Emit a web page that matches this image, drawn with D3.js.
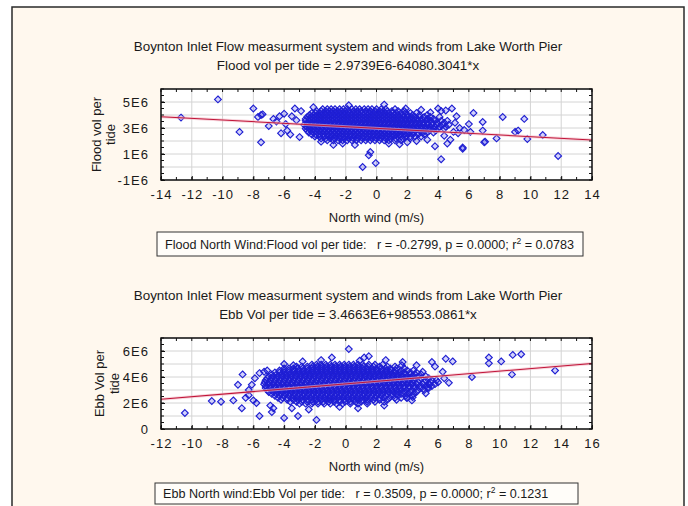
<!DOCTYPE html>
<html>
<head>
<meta charset="utf-8">
<script src="https://cdn.jsdelivr.net/npm/d3@7"></script>
<style>
  body { margin: 0; background: #fff; }
  svg text { font-family: "Liberation Sans", Arial, sans-serif; fill: #1a1a1a; }
</style>
</head>
<body>
<svg id="chart" width="688" height="506"></svg>
<script>
// shared text
const chartTitle = 'Boynton Inlet Flow measurment system and winds from Lake Worth Pier';
const xLabel = 'North wind (m/s)';

// ---- Flood panel (values in E6) ----
const floodXTicks = [-14, -12, -10, -8, -6, -4, -2, 0, 2, 4, 6, 8, 10, 12, 14];
const floodYTicks = [-1, 1, 3, 5];
const floodFit = { intercept: 2.9739, slope: -0.0640803041 };
// dense core, one row per vol level: [vol, [winds]]
const floodRows = [
  [4.45, [-3.5,-3.2,-2.95,-2.7,-2.4,-2.15,-1.9,-1.6,-1.35,-1.1,-0.8,-0.55,-0.3,0.0,0.3,0.6,1.2]],
  [4.30, [-3.9,-3.6,-3.3,-3.05,-2.8,-2.55,-2.3,-2.05,-1.8,-1.5,-1.25,-1.0,-0.7,-0.4,-0.1,0.2,0.45,0.7,1.0,1.4,1.8]],
  [4.15, [-4.2,-3.95,-3.7,-3.45,-3.2,-2.95,-2.7,-2.45,-2.2,-1.95,-1.7,-1.45,-1.2,-0.95,-0.7,-0.45,-0.2,0.05,0.3,0.55,0.8,1.05,1.3,1.6,1.9,2.2,2.6]],
  [4.00, [-4.35,-4.1,-3.85,-3.6,-3.35,-3.1,-2.85,-2.6,-2.35,-2.1,-1.85,-1.6,-1.35,-1.1,-0.85,-0.6,-0.35,-0.1,0.15,0.4,0.65,0.9,1.15,1.4,1.7,2.0,2.35,2.8,3.3]],
  [3.85, [-4.5,-4.25,-4.0,-3.75,-3.5,-3.25,-3.0,-2.75,-2.5,-2.25,-2.0,-1.75,-1.5,-1.25,-1.0,-0.75,-0.5,-0.25,0.0,0.25,0.5,0.75,1.0,1.25,1.5,1.75,2.0,2.25,2.5,2.8,3.1,3.5,4.1]],
  [3.70, [-4.6,-4.35,-4.1,-3.85,-3.6,-3.35,-3.1,-2.85,-2.6,-2.35,-2.1,-1.85,-1.6,-1.35,-1.1,-0.85,-0.6,-0.35,-0.1,0.15,0.4,0.65,0.9,1.15,1.4,1.65,1.9,2.15,2.4,2.65,2.95,3.3,3.7]],
  [3.55, [-4.6,-4.35,-4.1,-3.85,-3.6,-3.35,-3.1,-2.85,-2.6,-2.35,-2.1,-1.85,-1.6,-1.35,-1.1,-0.85,-0.6,-0.35,-0.1,0.15,0.4,0.65,0.9,1.15,1.4,1.65,1.9,2.15,2.4,2.65,2.9,3.2,3.5,3.8,4.2,4.6]],
  [3.40, [-4.5,-4.25,-4.0,-3.75,-3.5,-3.25,-3.0,-2.75,-2.5,-2.25,-2.0,-1.75,-1.5,-1.25,-1.0,-0.75,-0.5,-0.25,0.0,0.25,0.5,0.75,1.0,1.25,1.5,1.75,2.0,2.25,2.5,2.75,3.0,3.3,3.6,3.95,4.4]],
  [3.25, [-4.7,-4.45,-4.2,-3.95,-3.7,-3.45,-3.2,-2.95,-2.7,-2.45,-2.2,-1.95,-1.7,-1.45,-1.2,-0.95,-0.7,-0.45,-0.2,0.05,0.3,0.55,0.8,1.05,1.3,1.55,1.8,2.05,2.3,2.55,2.8,3.05,3.3,3.6,3.9,4.3,4.7]],
  [3.10, [-4.55,-4.3,-4.05,-3.8,-3.55,-3.3,-3.05,-2.8,-2.55,-2.3,-2.05,-1.8,-1.55,-1.3,-1.05,-0.8,-0.55,-0.3,-0.05,0.2,0.45,0.7,0.95,1.2,1.45,1.7,1.95,2.2,2.45,2.7,2.95,3.2,3.5,3.8,4.1,4.5]],
  [2.95, [-4.6,-4.35,-4.1,-3.85,-3.6,-3.35,-3.1,-2.85,-2.6,-2.35,-2.1,-1.85,-1.6,-1.35,-1.1,-0.85,-0.6,-0.35,-0.1,0.15,0.4,0.65,0.9,1.15,1.4,1.65,1.9,2.15,2.4,2.65,2.9,3.15,3.4,3.7,4.0,4.4]],
  [2.80, [-4.5,-4.25,-4.0,-3.75,-3.5,-3.25,-3.0,-2.75,-2.5,-2.25,-2.0,-1.75,-1.5,-1.25,-1.0,-0.75,-0.5,-0.25,0.0,0.25,0.5,0.75,1.0,1.25,1.5,1.75,2.0,2.25,2.5,2.8,3.1,3.45,3.85]],
  [2.65, [-4.4,-4.1,-3.85,-3.6,-3.35,-3.1,-2.85,-2.6,-2.35,-2.1,-1.85,-1.6,-1.35,-1.1,-0.85,-0.6,-0.35,-0.1,0.15,0.4,0.65,0.9,1.15,1.4,1.65,1.9,2.15,2.4,2.7,3.0,3.3,3.7]],
  [2.50, [-4.2,-3.95,-3.7,-3.45,-3.2,-2.95,-2.7,-2.45,-2.2,-1.95,-1.7,-1.45,-1.2,-0.95,-0.7,-0.45,-0.2,0.05,0.3,0.55,0.8,1.05,1.3,1.55,1.8,2.05,2.35,2.7,3.1]],
  [2.35, [-4.0,-3.7,-3.4,-3.15,-2.9,-2.65,-2.4,-2.15,-1.9,-1.65,-1.4,-1.15,-0.9,-0.65,-0.4,-0.15,0.1,0.35,0.6,0.85,1.1,1.35,1.6,1.9,2.2,2.5,2.9]],
  [2.20, [-3.6,-3.3,-3.0,-2.7,-2.4,-2.1,-1.8,-1.5,-1.2,-0.9,-0.6,-0.3,0.0,0.3,0.6,0.9,1.25,1.7,2.2]],
  [2.05, [-3.2,-2.8,-2.5,-2.2,-1.9,-1.6,-1.3,-1.0,-0.7,-0.4,-0.1,0.2,0.5,0.8,1.2,1.6]]
];
// scattered points outside the core: [wind, vol]
const floodSparse = [
  [-12.7,3.8],[-10.3,5.2],[-8.9,2.7],[-8.0,4.5],[-7.7,3.85],[-7.5,4.0],[-7.4,4.05],[-7.5,1.9],
  [-7.0,3.15],[-6.7,3.7],[-6.5,3.5],[-6.3,3.9],[-6.2,2.6],[-6.0,4.1],[-5.9,3.3],[-5.8,2.8],
  [-5.6,2.5],[-5.5,3.9],[-5.3,4.5],[-5.2,3.6],[-5.0,2.3],[-4.9,4.3],[-4.1,4.6],[-1.4,1.7],
  [-0.9,0.0],[-0.05,0.3],[-0.5,0.9],[-0.4,1.15],[-2.2,1.8],[0.8,1.8],[1.5,1.75],[2.6,2.0],
  [3.3,2.1],[-3.6,1.95],[4.0,4.5],[4.2,4.3],[4.5,4.35],[4.9,4.5],[4.2,0.6],[6.3,4.15],
  [6.9,3.46],[6.9,2.8],[7.0,1.9],[7.05,1.95],[6.0,3.3],[5.6,1.5],[5.6,1.4],[7.8,2.2],
  [8.2,3.85],[9.0,2.7],[9.2,2.8],[9.6,3.7],[9.8,2.15],[10.8,2.46],[11.8,0.85],[5.0,2.7],
  [5.3,2.6],[5.7,2.85],[6.1,2.7],[5.1,3.4],[5.2,3.9],[4.8,2.1],[4.6,1.8],[3.8,1.6],
  [4.4,2.4],[5.4,3.0],[2.0,1.9],[-2.8,1.7],[0.5,4.8],[-1.8,4.75],[1.9,4.5],[2.9,4.4],[3.5,4.2]
];

// ---- Ebb panel (values in E6) ----
const ebbXTicks = [-12, -10, -8, -6, -4, -2, 0, 2, 4, 6, 8, 10, 12, 14, 16];
const ebbYTicks = [0, 2, 4, 6];
const ebbFit = { intercept: 3.4663, slope: 0.0985530861 };
const ebbRows = [
  [4.95, [-2.2,-1.9,-1.6,-1.3,-1.0,-0.7,-0.4,-0.1,0.2,0.5,0.8,1.1,1.5,1.9,2.4]],
  [4.80, [-3.2,-2.85,-2.5,-2.15,-1.85,-1.55,-1.25,-0.95,-0.65,-0.35,-0.05,0.25,0.55,0.85,1.15,1.45,1.8,2.2,2.7,3.2]],
  [4.65, [-4.0,-3.7,-3.4,-3.1,-2.8,-2.5,-2.2,-1.9,-1.6,-1.3,-1.0,-0.7,-0.4,-0.1,0.2,0.5,0.8,1.1,1.4,1.7,2.0,2.3,2.6,2.9,3.3,3.8]],
  [4.50, [-4.3,-4.0,-3.7,-3.35,-3.05,-2.75,-2.45,-2.15,-1.85,-1.55,-1.25,-0.95,-0.65,-0.35,-0.05,0.25,0.55,0.85,1.15,1.45,1.75,2.05,2.35,2.65,2.95,3.25,3.6,4.0,4.4]],
  [4.35, [-4.6,-4.3,-4.0,-3.7,-3.4,-3.1,-2.8,-2.5,-2.2,-1.9,-1.6,-1.3,-1.0,-0.7,-0.4,-0.1,0.2,0.5,0.8,1.1,1.4,1.7,2.0,2.3,2.6,2.9,3.2,3.5,3.8,4.2,4.6]],
  [4.20, [-4.8,-4.5,-4.2,-3.9,-3.6,-3.3,-3.0,-2.7,-2.4,-2.1,-1.8,-1.5,-1.2,-0.9,-0.6,-0.3,0.0,0.3,0.6,0.9,1.2,1.5,1.8,2.1,2.4,2.7,3.0,3.3,3.6,3.9,4.2,4.5,4.9]],
  [4.05, [-5.0,-4.7,-4.4,-4.1,-3.8,-3.5,-3.2,-2.9,-2.6,-2.3,-2.0,-1.7,-1.4,-1.1,-0.8,-0.5,-0.2,0.1,0.4,0.7,1.0,1.3,1.6,1.9,2.2,2.5,2.8,3.1,3.4,3.7,4.0,4.3,4.7,5.2]],
  [3.90, [-5.1,-4.8,-4.5,-4.2,-3.9,-3.6,-3.3,-3.0,-2.7,-2.4,-2.1,-1.8,-1.5,-1.2,-0.9,-0.6,-0.3,0.0,0.3,0.6,0.9,1.2,1.5,1.8,2.1,2.4,2.7,3.0,3.3,3.6,3.9,4.2,4.5,4.9,5.4]],
  [3.75, [-5.2,-4.9,-4.6,-4.3,-4.0,-3.7,-3.4,-3.1,-2.8,-2.5,-2.2,-1.9,-1.6,-1.3,-1.0,-0.7,-0.4,-0.1,0.2,0.5,0.8,1.1,1.4,1.7,2.0,2.3,2.6,2.9,3.2,3.5,3.8,4.1,4.4,4.8,5.2,5.6]],
  [3.60, [-5.25,-4.95,-4.65,-4.35,-4.05,-3.75,-3.45,-3.15,-2.85,-2.55,-2.25,-1.95,-1.65,-1.35,-1.05,-0.75,-0.45,-0.15,0.15,0.45,0.75,1.05,1.35,1.65,1.95,2.25,2.55,2.85,3.15,3.45,3.75,4.05,4.35,4.7,5.1,5.5]],
  [3.45, [-5.3,-5.0,-4.7,-4.4,-4.1,-3.8,-3.5,-3.2,-2.9,-2.6,-2.3,-2.0,-1.7,-1.4,-1.1,-0.8,-0.5,-0.2,0.1,0.4,0.7,1.0,1.3,1.6,1.9,2.2,2.5,2.8,3.1,3.4,3.7,4.0,4.3,4.6,5.0,5.4,5.8]],
  [3.30, [-5.2,-4.9,-4.6,-4.3,-4.0,-3.7,-3.4,-3.1,-2.8,-2.5,-2.2,-1.9,-1.6,-1.3,-1.0,-0.7,-0.4,-0.1,0.2,0.5,0.8,1.1,1.4,1.7,2.0,2.3,2.6,2.9,3.2,3.5,3.8,4.1,4.4,4.8,5.2,5.6]],
  [3.15, [-5.2,-4.9,-4.6,-4.3,-4.0,-3.7,-3.4,-3.1,-2.8,-2.5,-2.2,-1.9,-1.6,-1.3,-1.0,-0.7,-0.4,-0.1,0.2,0.5,0.8,1.1,1.4,1.7,2.0,2.3,2.6,2.9,3.2,3.5,3.8,4.1,4.5,4.9,5.4]],
  [3.00, [-5.1,-4.8,-4.5,-4.2,-3.9,-3.6,-3.3,-3.0,-2.7,-2.4,-2.1,-1.8,-1.5,-1.2,-0.9,-0.6,-0.3,0.0,0.3,0.6,0.9,1.2,1.5,1.8,2.1,2.4,2.7,3.0,3.3,3.6,3.95,4.3,4.7,5.1]],
  [2.85, [-5.0,-4.7,-4.4,-4.1,-3.8,-3.5,-3.2,-2.9,-2.6,-2.3,-2.0,-1.7,-1.4,-1.1,-0.8,-0.5,-0.2,0.1,0.4,0.7,1.0,1.3,1.6,1.9,2.2,2.5,2.8,3.1,3.4,3.8,4.2,4.6]],
  [2.70, [-4.8,-4.5,-4.2,-3.9,-3.6,-3.3,-3.0,-2.7,-2.4,-2.1,-1.8,-1.5,-1.2,-0.9,-0.6,-0.3,0.0,0.3,0.6,0.9,1.2,1.5,1.8,2.1,2.4,2.7,3.0,3.3,3.6,4.0,4.4]],
  [2.55, [-4.6,-4.3,-4.0,-3.7,-3.4,-3.1,-2.8,-2.5,-2.2,-1.9,-1.6,-1.3,-1.0,-0.7,-0.4,-0.1,0.2,0.5,0.8,1.1,1.4,1.7,2.0,2.3,2.6,3.0,3.4,3.9,4.3]],
  [2.40, [-4.4,-4.1,-3.8,-3.5,-3.2,-2.9,-2.6,-2.3,-2.0,-1.7,-1.4,-1.1,-0.8,-0.5,-0.2,0.1,0.4,0.7,1.0,1.3,1.6,1.9,2.2,2.5,2.85,3.2,3.6,4.0]],
  [2.25, [-4.2,-3.8,-3.4,-3.1,-2.8,-2.5,-2.2,-1.9,-1.6,-1.3,-1.0,-0.7,-0.4,-0.1,0.2,0.5,0.8,1.1,1.4,1.8,2.2,2.7,3.3]],
  [2.10, [-3.6,-3.2,-2.85,-2.5,-2.15,-1.8,-1.45,-1.1,-0.75,-0.4,-0.05,0.3,0.65,1.0,1.4,1.9,2.5]],
  [1.95, [-3.0,-2.6,-2.2,-1.8,-1.4,-1.0,-0.6,-0.2,0.3,0.8,1.4]]
];
const ebbSparse = [
  [-10.45,1.23],[-8.7,2.15],[-8.1,2.1],[-7.3,2.2],[-7.0,3.4],[-6.75,1.6],[-6.7,4.2],[-6.5,2.4],
  [-6.3,2.6],[-6.1,3.4],[-6.0,2.2],[-5.6,1.0],[-5.6,4.3],[-5.3,4.4],[-5.1,4.5],[-4.8,1.3],
  [-4.7,1.6],[-4.0,0.85],[-3.1,1.0],[-4.0,5.0],[-3.4,4.9],[-1.9,0.7],[-0.9,5.5],[0.2,6.15],
  [1.2,5.5],[6.95,5.2],[6.5,5.4],[6.7,3.55],[5.6,5.15],[5.3,3.15],[5.45,3.4],[5.2,2.75],
  [5.9,3.75],[6.0,3.6],[8.2,4.0],[9.3,5.5],[9.3,5.05],[10.1,5.2],[10.85,5.7],[11.4,5.75],
  [10.8,4.2],[13.6,4.5],[4.35,2.45],[4.3,2.2],[3.95,2.4],[3.7,5.15],[3.65,4.9],[-5.8,2.0],
  [-4.9,1.8],[-3.5,1.6],[-2.4,1.5],[0.8,1.6],[2.5,1.8],[-1.6,5.3],[2.6,5.3],[4.6,4.9],
  [6.3,4.4],[6.4,3.9],[-5.9,3.9],[-6.3,3.0],[-2.8,5.2],[0.9,5.25],[-0.4,1.7],[1.5,5.6],
  [5.0,4.4],[5.8,4.8]
];

const panels = [
  {
    equation: 'Flood vol per tide = 2.9739E6-64080.3041*x',
    yLabel: ['Flood vol per', 'tide'],
    yLabelX: [101, 115],
    stats: ['Flood North Wind:Flood vol per tide:   r = -0.2799, p = 0.0000; r', ' = 0.0783'],
    xTicks: floodXTicks, yTicks: floodYTicks,
    xDomain: [-14, 14], yDomain: [-1, 6],
    rows: floodRows, sparse: floodSparse, fit: floodFit,
    titleY: 51, top: 89, bottom: 180, xLabelY: 222, boxX: 157, boxW: 426, boxY: 232, boxH: 24
  },
  {
    equation: 'Ebb Vol per tide = 3.4663E6+98553.0861*x',
    yLabel: ['Ebb Vol per', 'tide'],
    yLabelX: [104, 119],
    stats: ['Ebb North wind:Ebb Vol per tide:   r = 0.3509, p = 0.0000; r', ' = 0.1231'],
    xTicks: ebbXTicks, yTicks: ebbYTicks,
    xDomain: [-12, 16], yDomain: [0, 7],
    rows: ebbRows, sparse: ebbSparse, fit: ebbFit,
    titleY: 300, top: 338, bottom: 429, xLabelY: 471, boxX: 155, boxW: 423, boxY: 483, boxH: 21
  }
];

const plotLeft = 161, plotRight = 592;
const svg = d3.select('#chart');
const font = '"Liberation Sans", Arial, sans-serif';

// outer window frame
svg.append('rect')
  .attr('x', 12).attr('y', 7).attr('width', 672).attr('height', 520)
  .attr('fill', '#fff8ee').attr('stroke', '#2a2a2a').attr('stroke-width', 1.5);

const diamond = 'M0,-3.4L3.4,0L0,3.4L-3.4,0Z';

function drawPanel(p) {
  const x = d3.scaleLinear().domain(p.xDomain).range([plotLeft, plotRight]);
  const y = d3.scaleLinear().domain(p.yDomain).range([p.bottom, p.top]);
  const g = svg.append('g');

  // titles
  g.append('text').attr('x', 348).attr('y', p.titleY)
    .attr('text-anchor', 'middle').style('font-size', '13.4px').text(chartTitle);
  g.append('text').attr('x', 348).attr('y', p.titleY + 19)
    .attr('text-anchor', 'middle').style('font-size', '13.4px').text(p.equation);

  // plot area
  g.append('rect')
    .attr('x', plotLeft).attr('y', p.top)
    .attr('width', plotRight - plotLeft).attr('height', p.bottom - p.top)
    .attr('fill', '#ffffff');

  // grid: x at major ticks, y at every 1E6
  g.append('g').selectAll('line').data(p.xTicks).join('line')
    .attr('x1', d => x(d)).attr('x2', d => x(d))
    .attr('y1', p.top).attr('y2', p.bottom)
    .attr('stroke', '#d4d4d4').attr('stroke-width', 1);
  g.append('g').selectAll('line').data(y.ticks(7)).join('line')
    .attr('x1', plotLeft).attr('x2', plotRight)
    .attr('y1', d => y(d)).attr('y2', d => y(d))
    .attr('stroke', '#d4d4d4').attr('stroke-width', 1);

  // points
  const pts = [];
  p.rows.forEach(([v, winds]) => winds.forEach(w => pts.push([w, v])));
  p.sparse.forEach(d => pts.push(d));
  g.append('g').selectAll('path').data(pts).join('path')
    .attr('d', diamond)
    .attr('transform', d => `translate(${x(d[0])},${y(d[1])})`)
    .attr('fill', '#1e1ef0')
    .attr('fill-opacity', 0.2)
    .attr('stroke', '#1f1fd2')
    .attr('stroke-width', 1.15);

  // regression line
  const fitPts = p.xDomain.map(w => [w, p.fit.intercept + p.fit.slope * w]);
  const line = d3.line().x(d => x(d[0])).y(d => y(d[1]));
  g.append('path').attr('d', line(fitPts))
    .attr('fill', 'none').attr('stroke', '#f2b8c4').attr('stroke-width', 3).attr('opacity', 0.6);
  g.append('path').attr('d', line(fitPts))
    .attr('fill', 'none').attr('stroke', '#c01438').attr('stroke-width', 1.1);

  // axes with inward ticks
  const fmtX = d => String(d).replace('\u2212', '-');
  const xAxis = g.append('g').attr('transform', `translate(0,${p.bottom})`)
    .call(d3.axisBottom(x).tickValues(p.xTicks).tickSizeInner(-4).tickSizeOuter(0).tickPadding(10)
      .tickFormat(fmtX));
  const yAxis = g.append('g').attr('transform', `translate(${plotLeft},0)`)
    .call(d3.axisLeft(y).tickValues(p.yTicks).tickSizeInner(-4).tickSizeOuter(0).tickPadding(12)
      .tickFormat(d => d === 0 ? '0' : d + 'E6'));
  [xAxis, yAxis].forEach(a => {
    a.select('.domain').remove();
    a.selectAll('line').attr('stroke', '#111');
    a.selectAll('text').attr('fill', '#1a1a1a').style('font-size', '13px')
      .style('font-family', font).style('letter-spacing', '1px');
  });

  // minor ticks on all four edges
  const minorX = x.ticks(28), minorY = y.ticks(14);
  const mt = g.append('g').attr('stroke', '#111');
  minorX.forEach(d => {
    mt.append('line').attr('x1', x(d)).attr('x2', x(d)).attr('y1', p.top).attr('y2', p.top + 3);
    mt.append('line').attr('x1', x(d)).attr('x2', x(d)).attr('y1', p.bottom).attr('y2', p.bottom - 3);
  });
  minorY.forEach(d => {
    mt.append('line').attr('x1', plotLeft).attr('x2', plotLeft + 3).attr('y1', y(d)).attr('y2', y(d));
    mt.append('line').attr('x1', plotRight).attr('x2', plotRight - 3).attr('y1', y(d)).attr('y2', y(d));
  });

  // plot frame
  g.append('rect')
    .attr('x', plotLeft).attr('y', p.top)
    .attr('width', plotRight - plotLeft).attr('height', p.bottom - p.top)
    .attr('fill', 'none').attr('stroke', '#111').attr('stroke-width', 1.5);

  // axis titles
  g.append('text').attr('x', (plotLeft + plotRight) / 2).attr('y', p.xLabelY)
    .attr('text-anchor', 'middle').style('font-size', '13px').text(xLabel);
  const cy = (p.top + p.bottom) / 2;
  p.yLabel.forEach((t, i) => {
    g.append('text')
      .attr('transform', `translate(${p.yLabelX[i]},${cy}) rotate(-90)`)
      .attr('text-anchor', 'middle').style('font-size', '13px').text(t);
  });

  // stats box
  g.append('rect').attr('x', p.boxX).attr('y', p.boxY).attr('width', p.boxW).attr('height', p.boxH)
    .attr('fill', '#fffdf9').attr('stroke', '#333').attr('stroke-width', 1);
  const st = g.append('text').attr('x', p.boxX + 8).attr('y', p.boxY + p.boxH / 2 + 4.5)
    .style('font-size', '12.6px').style('white-space', 'pre');
  st.append('tspan').text(p.stats[0]);
  st.append('tspan').attr('dy', -5).style('font-size', '8.5px').text('2');
  st.append('tspan').attr('dy', 5).text(p.stats[1]);
}

panels.forEach(drawPanel);
</script>
</body>
</html>
